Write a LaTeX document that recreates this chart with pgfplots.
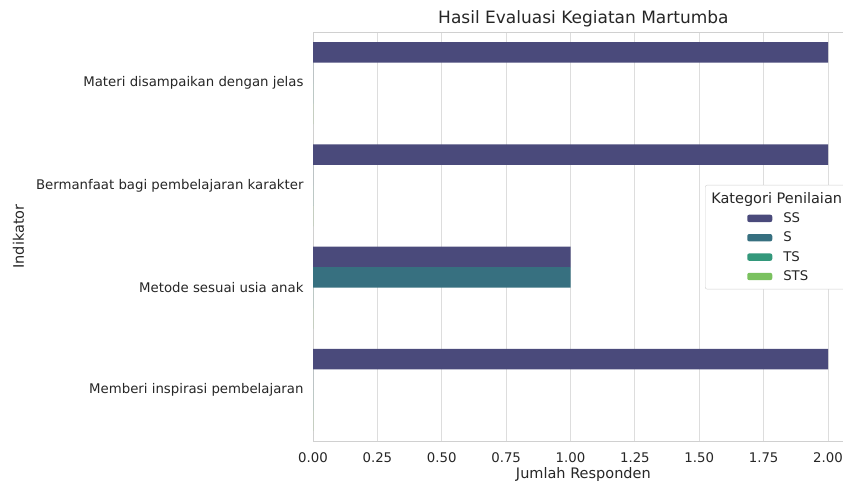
\documentclass[border=0pt]{standalone}
\usepackage{pgfplots}
\pgfplotsset{compat=1.18}
\usepackage{fontspec}
\setmainfont{DejaVu Sans}
\definecolor{cSS}{HTML}{4A4A7B}
\definecolor{cS}{HTML}{377080}
\definecolor{cTS}{HTML}{33987B}
\definecolor{cSTS}{HTML}{7AC15F}
\definecolor{gridgray}{HTML}{DDDDDD}
\definecolor{spinegray}{HTML}{D0D0D0}
\definecolor{txt}{HTML}{262626}
\newcommand{\fs}{\fontsize{13.3}{15.5}\selectfont}
\newcommand{\fl}{\fontsize{14.5}{17}\selectfont}
\begin{document}
\begin{tikzpicture}
\begin{axis}[
  at={(313pt,43pt)}, anchor=south west,
  scale only axis, width=540.75pt, height=409pt,
  xmin=0, xmax=2.1, ymin=-0.5, ymax=3.5, y dir=reverse,
  xbar, bar width=0.2,
  ytick={0,1,2,3},
  yticklabels={Materi disampaikan dengan jelas,Bermanfaat bagi pembelajaran karakter,Metode sesuai usia anak,Memberi inspirasi pembelajaran},
  xtick={0,0.25,0.5,0.75,1,1.25,1.5,1.75,2},
  /pgf/number format/assume math mode=true,
  xticklabel={\pgfmathprintnumber[fixed,fixed zerofill,precision=2]{\tick}},
  major tick length=0pt,
  xmajorgrids, ymajorgrids=false,
  grid style={color=gridgray, line width=1pt},
  axis line style={color=spinegray, line width=1pt},
  tick label style={font=\fs, color=txt},
  yticklabel style={xshift=-6pt},
  xticklabel style={yshift=-8.5pt},
  xlabel={Jumlah Responden}, ylabel={Indikator},
  label style={font=\fl, color=txt},
  xlabel style={yshift=2.5pt},
  ylabel style={yshift=5pt},
  title={Hasil Evaluasi Kegiatan Martumba},
  title style={font=\fontsize{17}{20}\selectfont, color=txt, yshift=-5pt},
  legend cell align=left,
  legend style={at={(0.725,0.626)}, anchor=north west,
    draw=spinegray, rounded corners=2pt, fill=white,
    font=\fs, text=txt, row sep=4pt, inner xsep=6pt, inner ysep=5pt},
  every axis plot/.append style={draw=none},
  legend image code/.code={\path (-36pt,0pt) (34pt,0pt); \fill[#1] (0pt,-3.7pt) rectangle (25pt,3.7pt);},
]
\addlegendimage{empty legend}
\addlegendentry{\hspace*{-72pt}\fl Kategori Penilaian}
\addplot[fill=cSS, bar shift=-0.3] coordinates {(2,0) (2,1) (1,2) (2,3)};
\addlegendentry{SS}
\addplot[fill=cS, bar shift=-0.1] coordinates {(0,0) (0,1) (1,2) (0,3)};
\addlegendentry{S}
\addplot[fill=cTS, bar shift=0.1] coordinates {(0,0) (0,1) (0,2) (0,3)};
\addlegendentry{TS}
\addplot[fill=cSTS, bar shift=0.3] coordinates {(0,0) (0,1) (0,2) (0,3)};
\addlegendentry{STS}
\end{axis}
\pgfresetboundingbox
\useasboundingbox (0,0) rectangle (843pt,484pt);
\end{tikzpicture}
\end{document}
